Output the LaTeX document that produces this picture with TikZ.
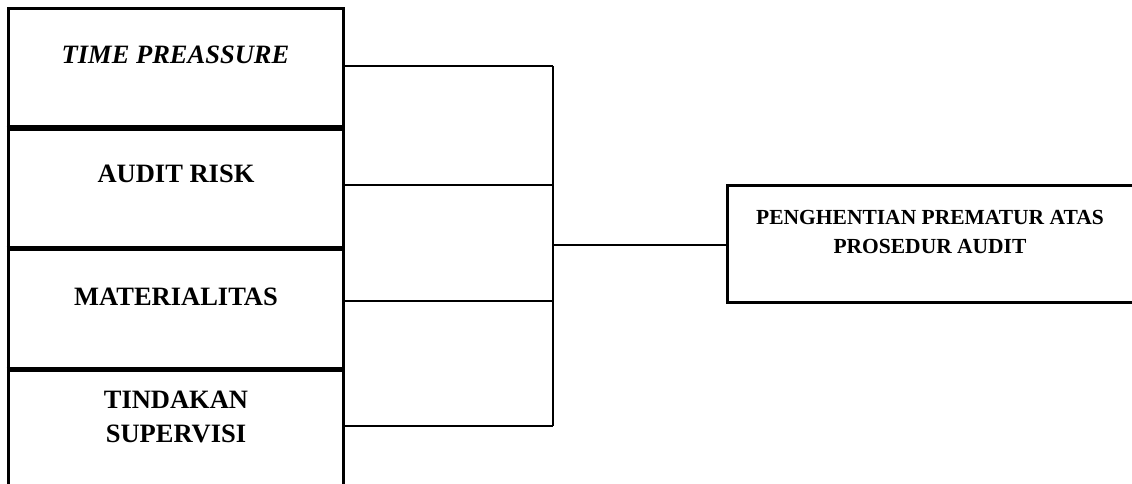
\documentclass[tikz,border=0pt]{standalone}
\usepackage{fontspec}
\setmainfont{Liberation Serif}
\begin{document}
\begin{tikzpicture}[x=1pt,y=-1pt,
  box/.style={draw,line width=3pt,minimum width=335pt,inner sep=0pt},
  lbl/.style={font=\fontsize{26.5}{34}\selectfont\bfseries,align=center,inner sep=0pt},
  sep/.style={line width=5pt},
  conn/.style={line width=2.3pt}]
\useasboundingbox (0,0) rectangle (1132,484);
% left stacked boxes
\node[box,minimum height=118pt] (b1) at (175.5,68) {};
\node[box,minimum height=120pt] (b2) at (175.5,187) {};
\node[box,minimum height=121pt] (b3) at (175.5,307.5) {};
\node[box,minimum height=122pt] (b4) at (175.5,429) {};
\draw[sep] (b1.south west) -- (b1.south east);
\draw[sep] (b2.south west) -- (b2.south east);
\draw[sep] (b3.south west) -- (b3.south east);
\node[lbl] (t1) at (175.5,55) {\itshape TIME PREASSURE};
\node[lbl] (t2) at (176,174) {AUDIT RISK};
\node[lbl] (t3) at (176,297) {MATERIALITAS};
\node[lbl] (t4) at (176,417) {TINDAKAN\\SUPERVISI};
% right box
\node[draw,line width=3pt,minimum width=407pt,minimum height=117pt,inner sep=0pt] (r) at (930.5,243.5) {};
\node[font=\fontsize{21.5}{29}\selectfont\bfseries,align=center,inner sep=0pt] (rt) at (930,232) {PENGHENTIAN PREMATUR ATAS\\PROSEDUR AUDIT};
% connectors
\coordinate (j) at (553,245);
\coordinate (top) at (553,66);
\coordinate (bot) at (553,426);
\draw[conn] (b1.east |- top) -- (top);
\draw[conn] (b2.east |- 0,185) -- (553,185);
\draw[conn] (b3.east |- 0,301) -- (553,301);
\draw[conn] (b4.east |- bot) -- (bot);
\draw[conn] (top) -- (bot);
\draw[conn] (j) -- (j -| r.west);
\end{tikzpicture}
\end{document}
